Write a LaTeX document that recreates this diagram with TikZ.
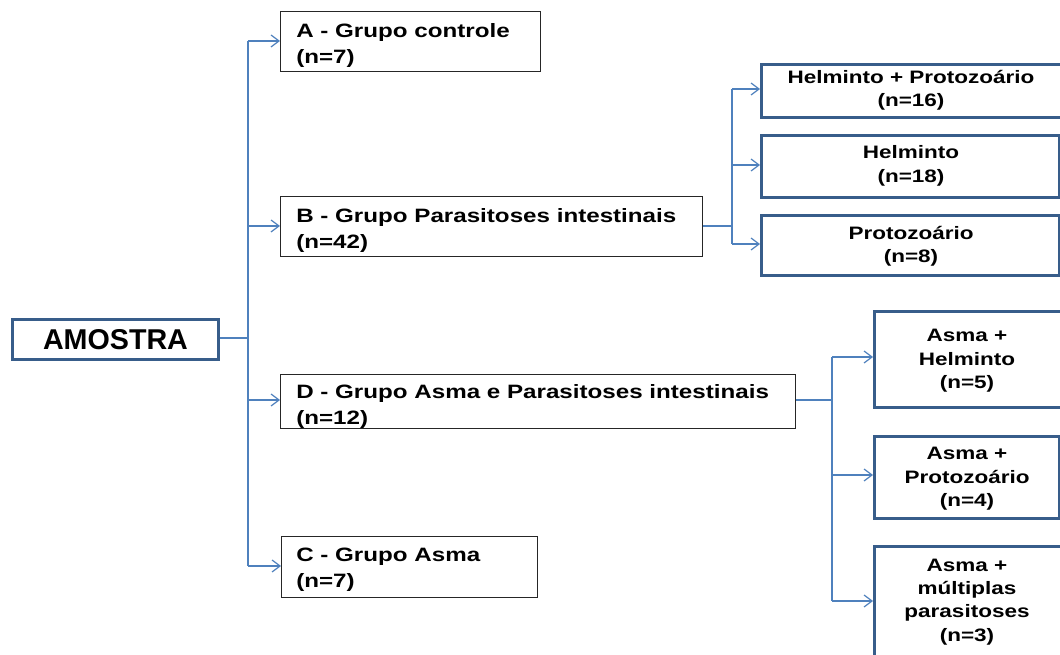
\documentclass[tikz,border=0pt]{standalone}
\usepackage{fontspec}
\setmainfont{Liberation Sans}
\newfontfamily\widefont[FakeStretch=1.25]{Liberation Sans}
\usetikzlibrary{arrows.meta}
\definecolor{lineblue}{HTML}{4F81BD}
\definecolor{boxblue}{HTML}{385D8A}
\begin{document}
\begin{tikzpicture}[x=0.75pt,y=-0.75pt,
  grp/.style={draw=black!85,line width=1.1pt,fill=white,inner sep=0pt,anchor=north west},
  sub/.style={draw=boxblue,line width=2.2pt,fill=white,inner sep=0pt,anchor=north west},
  conn/.style={draw=lineblue,line width=1pt},
  arr/.style={conn,-{Straight Barb[length=6pt,width=9pt,line width=0.9pt]}},
  gtxt/.style={font=\widefont\bfseries\fontsize{14.5}{19.5}\selectfont,align=left,anchor=north west,inner sep=0pt},
  stxt/.style={font=\widefont\bfseries\fontsize{13.5}{17.5}\selectfont,align=center,inner sep=0pt}
]
\clip (0,0) rectangle (1060,655);
\fill[white] (0,0) rectangle (1060,655);

% root
\node[sub,minimum width=206*0.75pt,minimum height=40*0.75pt] (root) at (11,318) {};
\node[font=\bfseries\fontsize{21.5}{24}\selectfont,inner sep=0pt] at (root.center) {AMOSTRA};

% groups
\node[grp,minimum width=260*0.75pt,minimum height=60*0.75pt] (A) at (280,11) {};
\node[gtxt] at (296,23) {A - Grupo  controle\\(n=7)};
\node[grp,minimum width=422*0.75pt,minimum height=60*0.75pt] (B) at (280,196) {};
\node[gtxt] at (296,208) {B - Grupo  Parasitoses intestinais\\(n=42)};
\node[grp,minimum width=515*0.75pt,minimum height=54*0.75pt] (D) at (280,374) {};
\node[gtxt] at (296,384) {D - Grupo Asma e Parasitoses intestinais\\(n=12)};
\node[grp,minimum width=256*0.75pt,minimum height=61*0.75pt] (C) at (281,536) {};
\node[gtxt] at (296,548) {C - Grupo Asma\\(n=7)};

% B subgroups
\node[sub,minimum width=320*0.75pt,minimum height=53*0.75pt] (HP) at (760,63) {};
\node[stxt] at (911,90) {Helminto + Protozoário\\(n=16)};
\node[sub,minimum width=298*0.75pt,minimum height=62*0.75pt] (H) at (760,134) {};
\node[stxt] at (911,166) {Helminto\\(n=18)};
\node[sub,minimum width=298*0.75pt,minimum height=60*0.75pt] (P) at (760,214) {};
\node[stxt] at (911,246) {Protozoário\\(n=8)};

% D subgroups
\node[sub,minimum width=207*0.75pt,minimum height=96*0.75pt] (AH) at (873,310) {};
\node[stxt] at (967,361) {Asma +\\Helminto\\(n=5)};
\node[sub,minimum width=185*0.75pt,minimum height=82*0.75pt] (AP) at (873,435) {};
\node[stxt] at (967,479) {Asma +\\Protozoário\\(n=4)};
\node[sub,minimum width=207*0.75pt,minimum height=130*0.75pt] (AM) at (873,545) {};
\node[stxt] at (967,602) {Asma +\\múltiplas\\parasitoses\\(n=3)};

% trunk coordinates
\coordinate (t0) at (248,338);
\coordinate (tA) at (248,41);
\coordinate (tB) at (248,226);
\coordinate (tD) at (248,400);
\coordinate (tC) at (248,566);
\draw[conn] (root.east |- t0) -- (t0);
\draw[conn] (tA) -- (tC);
\draw[arr] (tA) -- (A.west |- tA);
\draw[arr] (tB) -- (B.west |- tB);
\draw[arr] (tD) -- (D.west |- tD);
\draw[arr] (tC) -- (C.west |- tC);

% B branch
\coordinate (b0) at (732,226);
\coordinate (b1) at (732,89);
\coordinate (b2) at (732,165);
\coordinate (b3) at (732,244);
\draw[conn] (B.east |- b0) -- (b0);
\draw[conn] (b1) -- (b3);
\draw[arr] (b1) -- (HP.west |- b1);
\draw[arr] (b2) -- (H.west |- b2);
\draw[arr] (b3) -- (P.west |- b3);

% D branch
\coordinate (d0) at (832,400);
\coordinate (d1) at (832,357);
\coordinate (d2) at (832,475);
\coordinate (d3) at (832,601);
\draw[conn] (D.east |- d0) -- (d0);
\draw[conn] (d1) -- (d3);
\draw[arr] (d1) -- (AH.west |- d1);
\draw[arr] (d2) -- (AP.west |- d2);
\draw[arr] (d3) -- (AM.west |- d3);
\end{tikzpicture}
\end{document}
